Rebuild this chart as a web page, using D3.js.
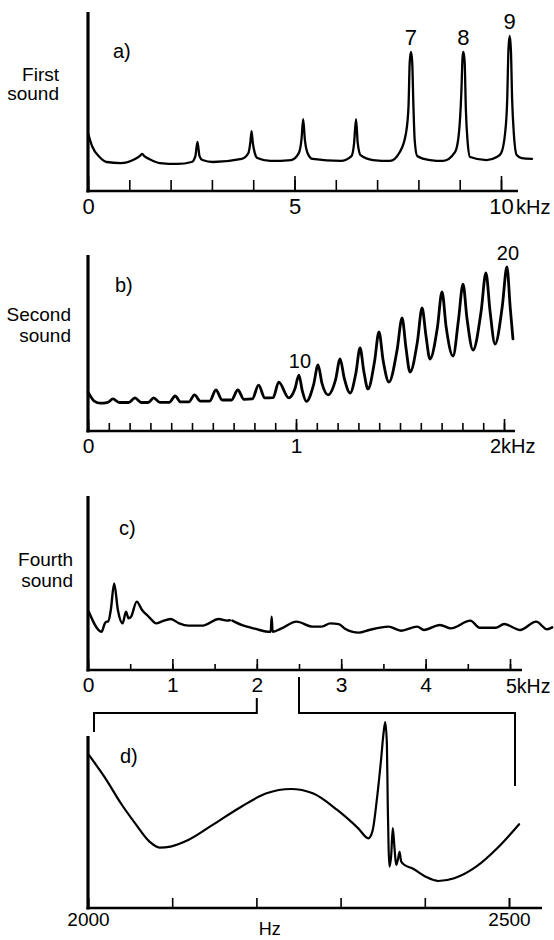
<!DOCTYPE html>
<html>
<head>
<meta charset="utf-8">
<script src="https://cdn.jsdelivr.net/npm/d3@7"></script>
<style>
body { margin: 0; background: #fff; }
svg { display: block; font-family: "Liberation Sans", Arial, sans-serif; }
</style>
</head>
<body>
<div id="chart"></div>
<script>
// a) first sound: frequency (kHz) and relative amplitude (0-100 = axis height)
var freqA = [0.00, 0.10, 0.28, 0.45, 0.79, 1.14, 1.25, 1.31, 1.37, 1.48, 1.74, 2.17, 2.51, 2.60, 2.65, 2.70, 2.77, 3.03,
  3.72, 3.88, 3.93, 3.96, 3.99, 4.04, 4.10, 4.41, 4.92, 5.10, 5.17, 5.21, 5.25, 5.32, 5.44, 6.12, 6.38, 6.44, 6.49, 6.53,
  6.60, 6.90, 7.31, 7.55, 7.70, 7.76, 7.79, 7.82, 7.85, 7.88, 7.91, 7.97, 8.28, 8.60, 8.89, 8.98, 9.04, 9.07, 9.09, 9.12,
  9.15, 9.19, 9.25, 9.65, 9.90, 10.00, 10.10, 10.15, 10.18, 10.21, 10.24, 10.27, 10.31, 10.38, 10.50, 10.75]
var ampA = [32.4, 25.0, 19.0, 16.2, 15.6, 17.9, 19.5, 20.7, 19.3, 17.9, 15.6, 15.1, 16.2, 19.5, 27.4, 19.5, 17.3, 16.2,
  17.9, 21.0, 27.0, 33.5, 27.0, 21.0, 18.4, 16.8, 17.3, 21.0, 29.0, 40.2, 29.0, 21.0, 17.9, 16.8, 19.5, 26.0, 40.2, 27.0,
  20.0, 17.3, 16.8, 21.8, 32.4, 47.0, 72.0, 77.7, 72.0, 47.0, 28.5, 19.6, 17.3, 16.8, 21.8, 32.0, 55.0, 75.0, 77.7, 72.0,
  45.0, 28.0, 19.0, 17.3, 19.0, 21.0, 32.4, 50.8, 78.8, 86.6, 78.8, 50.8, 32.4, 20.1, 18.4, 17.9]
var peakFreqA = [7.82, 9.09, 10.21]
var peakAmpA = [77.7, 77.7, 86.6]
var peakNamesA = ["7", "8", "9"]
var ticksA = [0, 1, 2, 3, 4, 5, 6, 7, 8, 9, 10]
var labelTicksA = [0, 5, 10]

// b) second sound
var freqB = [0.000, 0.030, 0.060, 0.095, 0.120, 0.150, 0.195, 0.226, 0.255, 0.290, 0.316, 0.345, 0.390, 0.419, 0.445,
  0.485, 0.512, 0.540, 0.585, 0.615, 0.645, 0.690, 0.720, 0.750, 0.790, 0.820, 0.850, 0.890, 0.917, 0.965,
  0.995, 1.014, 1.030, 1.050, 1.084, 1.106, 1.125, 1.154, 1.190, 1.212, 1.232, 1.260, 1.288, 1.308, 1.326, 1.346,
  1.377, 1.399, 1.419, 1.447, 1.486, 1.510, 1.529, 1.548, 1.584, 1.606, 1.625, 1.644, 1.680, 1.702, 1.722, 1.755,
  1.781, 1.803, 1.822, 1.851, 1.890, 1.913, 1.933, 1.957, 1.992, 2.014, 2.030, 2.043]
var ampB = [22.2, 17.0, 15.8, 16.3, 18.2, 16.2, 16.2, 18.8, 16.2, 16.2, 18.8, 16.3, 16.3, 19.9, 16.5,
  16.5, 20.5, 17.0, 17.0, 23.3, 17.6, 17.6, 23.3, 18.0, 18.2, 26.1, 18.8, 19.0, 27.8, 18.8,
  24.0, 31.8, 23.0, 16.8, 26.0, 37.5, 27.0, 20.5, 29.0, 40.9, 30.0, 21.6, 33.0, 47.2, 34.0, 23.9,
  39.0, 56.3, 40.0, 27.8, 46.0, 64.2, 47.0, 33.5, 51.0, 69.9, 54.0, 40.9, 59.0, 79.0, 59.0, 42.6,
  63.0, 83.5, 64.0, 46.0, 68.0, 89.8, 68.0, 49.4, 71.0, 93.2, 70.0, 52.3]
var peakFreqB = [1.014, 2.014]
var peakAmpB = [31.8, 93.2]
var peakNamesB = ["10", "20"]
var ticksB = [0, 0.1, 0.2, 0.3, 0.4, 0.5, 0.6, 0.7, 0.8, 0.9, 1, 1.1, 1.2, 1.3, 1.4, 1.5, 1.6, 1.7, 1.8, 1.9, 2]
var labelTicksB = [0, 1, 2]

// c) fourth sound (null = break in the trace)
var freqC = [0.01, 0.16, 0.20, 0.22, 0.24, 0.27, 0.31, 0.354, 0.41, 0.45, 0.48, 0.51, 0.577, 0.64, 0.72, 0.81, 0.87,
  0.98, 1.08, 1.19, 1.36, 1.55, 1.65, 1.68, 1.695, 1.71, 1.82, 1.99, 2.13, 2.165, 2.176, 2.187, 2.28, 2.47, 2.66, 2.77,
  2.87, 2.97, 3.04, 3.21, 3.33, 3.56, 3.71, 3.90, 3.98, 4.17, 4.30, 4.53, 4.64, 4.83, 4.93, 5.12, 5.31, 5.44, 5.50]
var ampC = [33.5, 22.0, 26.8, 27.8, 27.8, 34.5, 49.8, 34.5, 26.8, 33.5, 29.7, 30.6, 39.3, 34.5, 30.6, 26.8, 27.8,
  29.3, 26.8, 25.5, 25.5, 29.3, 28.4, 28.6, null, 28.4, 25.9, 23.6, 22.0, 22.0, 30.6, 22.0, 23.6, 27.8, 24.9, 24.9,
  26.8, 26.4, 23.9, 21.5, 23.0, 24.9, 22.6, 24.9, 23.0, 25.9, 23.9, 28.4, 24.3, 24.3, 26.4, 23.0, 27.8, 23.4, 24.5]
var ticksC = [0, 0.5, 1, 1.5, 2, 2.5, 3, 3.5, 4, 4.5, 5]
var labelTicksC = [0, 1, 2, 3, 4, 5]

// d) 2000-2500 Hz detail of c)
var freqD = [2001, 2022, 2039, 2056, 2073, 2085, 2098, 2119, 2148, 2182, 2212, 2241, 2267, 2296, 2321, 2333, 2338,
  2343, 2348, 2351, 2353, 2355, 2356, 2357, 2358, 2360, 2362, 2364, 2366, 2368, 2370, 2372, 2376, 2385, 2401, 2416,
  2435, 2461, 2486, 2512]
var ampD = [89.0, 74.4, 60.9, 49.2, 38.6, 35.1, 35.7, 39.5, 48.3, 58.9, 66.7, 69.2, 66.7, 57.0, 46.3, 40.5, 45.0,
  62.8, 86.0, 101.7, 108.1, 95.0, 60.0, 35.0, 24.0, 30.0, 46.5, 35.0, 25.0, 28.0, 32.6, 27.0, 25.0, 23.1, 18.2, 15.7,
  17.3, 24.0, 34.7, 48.7]
var ticksD = [2000, 2100, 2200, 2300, 2400, 2500]
var labelTicksD = [2000, 2500]

var width = 554, height = 940

var svg = d3.select("#chart")
  .append("svg")
  .attr("width", width)
  .attr("height", height)

svg.append("rect").attr("width", width).attr("height", height).attr("fill", "#fff")

// one x and y scale per panel
var xA = d3.scaleLinear().domain([0, 10]).range([88, 501])
var yA = d3.scaleLinear().domain([0, 100]).range([191, 12])
var xB = d3.scaleLinear().domain([0, 2]).range([88, 504])
var yB = d3.scaleLinear().domain([0, 100]).range([431, 255])
var xC = d3.scaleLinear().domain([0, 5]).range([88, 510])
var yC = d3.scaleLinear().domain([0, 100]).range([670, 496])
var xD = d3.scaleLinear().domain([2000, 2500]).range([88, 509])
var yD = d3.scaleLinear().domain([0, 100]).range([908, 736])

function pairs(f, a) {
  return f.map(function (v, i) { return [v, a[i]] })
}

// axes: bold L-shaped frame with inward ticks
function axes(x, y, minor, major, minorLen, majorLen, fmt, fontSize, pad, extra) {
  svg.append("line")
    .attr("x1", x.range()[0]).attr("x2", x.range()[0])
    .attr("y1", y(0) + 1.5).attr("y2", y(100))
    .attr("stroke", "#000").attr("stroke-width", 3.2)
  svg.append("line")
    .attr("x1", x.range()[0] - 1.5).attr("x2", x.range()[1] + extra)
    .attr("y1", y(0)).attr("y2", y(0))
    .attr("stroke", "#000").attr("stroke-width", 2.6)

  var g1 = svg.append("g").attr("transform", "translate(0," + y(0) + ")")
    .call(d3.axisBottom(x).tickValues(minor).tickSize(-minorLen).tickFormat(""))
  g1.select(".domain").remove()
  g1.selectAll("line").attr("stroke", "#000").attr("stroke-width", 1.6)

  var g2 = svg.append("g").attr("transform", "translate(0," + y(0) + ")")
    .call(d3.axisBottom(x).tickValues(major).tickSize(-majorLen).tickPadding(pad).tickFormat(fmt))
  g2.select(".domain").remove()
  g2.selectAll("line").attr("stroke", "#000").attr("stroke-width", 1.6)
  g2.selectAll("text")
    .attr("fill", "#000")
    .style("font-family", "'Liberation Sans', Arial, sans-serif")
    .style("font-size", fontSize + "px")
}

function trace(x, y, f, a, w) {
  var line = d3.line()
    .defined(function (d) { return d[1] !== null })
    .x(function (d) { return x(d[0]) })
    .y(function (d) { return y(d[1]) })
    .curve(d3.curveMonotoneX)
  svg.append("path")
    .attr("d", line(pairs(f, a)))
    .attr("fill", "none")
    .attr("stroke", "#000")
    .attr("stroke-width", w)
    .attr("stroke-linejoin", "round")
    .attr("stroke-linecap", "round")
}

function label(txt, x, y, size, anchor) {
  svg.append("text")
    .attr("x", x).attr("y", y)
    .attr("text-anchor", anchor || "start")
    .style("font-size", size + "px")
    .attr("fill", "#000")
    .text(txt)
}

// ---- panel a
axes(xA, yA, ticksA, labelTicksA, 11, 15, function (d) { return d }, 22, 7, 17)
trace(xA, yA, freqA, ampA, 2.3)
label("kHz", xA(10) + 15, yA(0) + 23, 20)
label("a)", 113, 58, 20)
label("First", 59, 81, 19, "end")
label("sound", 59, 100, 19, "end")
peakNamesA.forEach(function (n, i) {
  label(n, xA(peakFreqA[i]), yA(peakAmpA[i]) - 7, 22, "middle")
})

// ---- panel b
axes(xB, yB, ticksB, labelTicksB, 8, 12, function (d) { return d === 2 ? "" : d }, 21, 7, 11)
trace(xB, yB, freqB, ampB, 2.8)
label("2kHz", xB(2) - 14, yB(0) + 22, 20)
label("b)", 115, 292, 20)
label("Second", 71, 321, 19, "end")
label("sound", 71, 342, 19, "end")
peakNamesB.forEach(function (n, i) {
  label(n, xB(peakFreqB[i]) + 1, yB(peakAmpB[i]) - 7, 20, "middle")
})

// ---- panel c
axes(xC, yC, ticksC, labelTicksC, 6, 11, function (d) { return d === 5 ? "" : d }, 21, 7, 12)
trace(xC, yC, freqC, ampC, 2.4)
label("5kHz", xC(5) - 4, yC(0) + 23, 19.5)
label("c)", 119, 535, 20)
label("Fourth", 73, 566, 19, "end")
label("sound", 73, 587, 19, "end")

// bracket linking 2-2.5 kHz of c) to the d) axis
var bracketY = 713
svg.append("path")
  .attr("d", d3.line()([[xC(2), 698], [xC(2), bracketY], [xD(2000) + 6, bracketY], [xD(2000) + 6, 732]]))
  .attr("fill", "none").attr("stroke", "#000").attr("stroke-width", 2)
svg.append("path")
  .attr("d", d3.line()([[xC(2.5), 677], [xC(2.5), bracketY], [xD(2500) + 6, bracketY], [xD(2500) + 6, 786]]))
  .attr("fill", "none").attr("stroke", "#000").attr("stroke-width", 2)

// ---- panel d
axes(xD, yD, ticksD, labelTicksD, 10, 10, function (d) { return d }, 19, 5, 33)
trace(xD, yD, freqD, ampD, 2.2)
label("Hz", xD(2216), 935, 18, "middle")
label("d)", 120, 763, 20)
</script>
</body>
</html>
